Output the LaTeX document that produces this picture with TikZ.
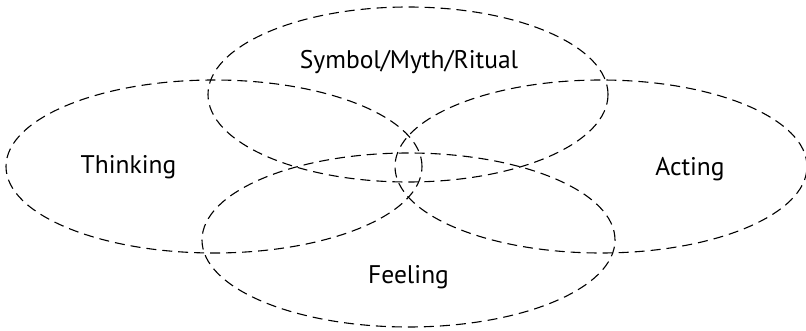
\documentclass[tikz,border=0pt]{standalone}
\usepackage{fontspec}
\setmainfont{PT Sans}
\usetikzlibrary{shapes.geometric}
\begin{document}
\begin{tikzpicture}[x=1pt,y=-1pt,
  ring/.style={draw=black, line width=1.1pt, dash pattern=on 10pt off 6pt, ellipse, inner sep=0pt},
  lbl/.style={font=\fontsize{25.5}{30}\selectfont, inner sep=0pt}]
\useasboundingbox (0,0) rectangle (806,331);
\node[ring, minimum width=400pt, minimum height=175pt] (top) at (408,94.5) {};
\node[ring, minimum width=416pt, minimum height=173pt] (left) at (214,166.5) {};
\node[ring, minimum width=412pt, minimum height=173pt] (right) at (601,166.5) {};
\node[ring, minimum width=413pt, minimum height=174pt] (bottom) at (408.5,240) {};
\node[lbl] (tsym) at (409,62) {Symbol/Myth/Ritual};
\node[lbl] (tthink) at (128.5,167) {Thinking};
\node[lbl] (tact) at (690,169) {Acting};
\node[lbl] (tfeel) at (408.5,277) {Feeling};
\end{tikzpicture}
\end{document}
